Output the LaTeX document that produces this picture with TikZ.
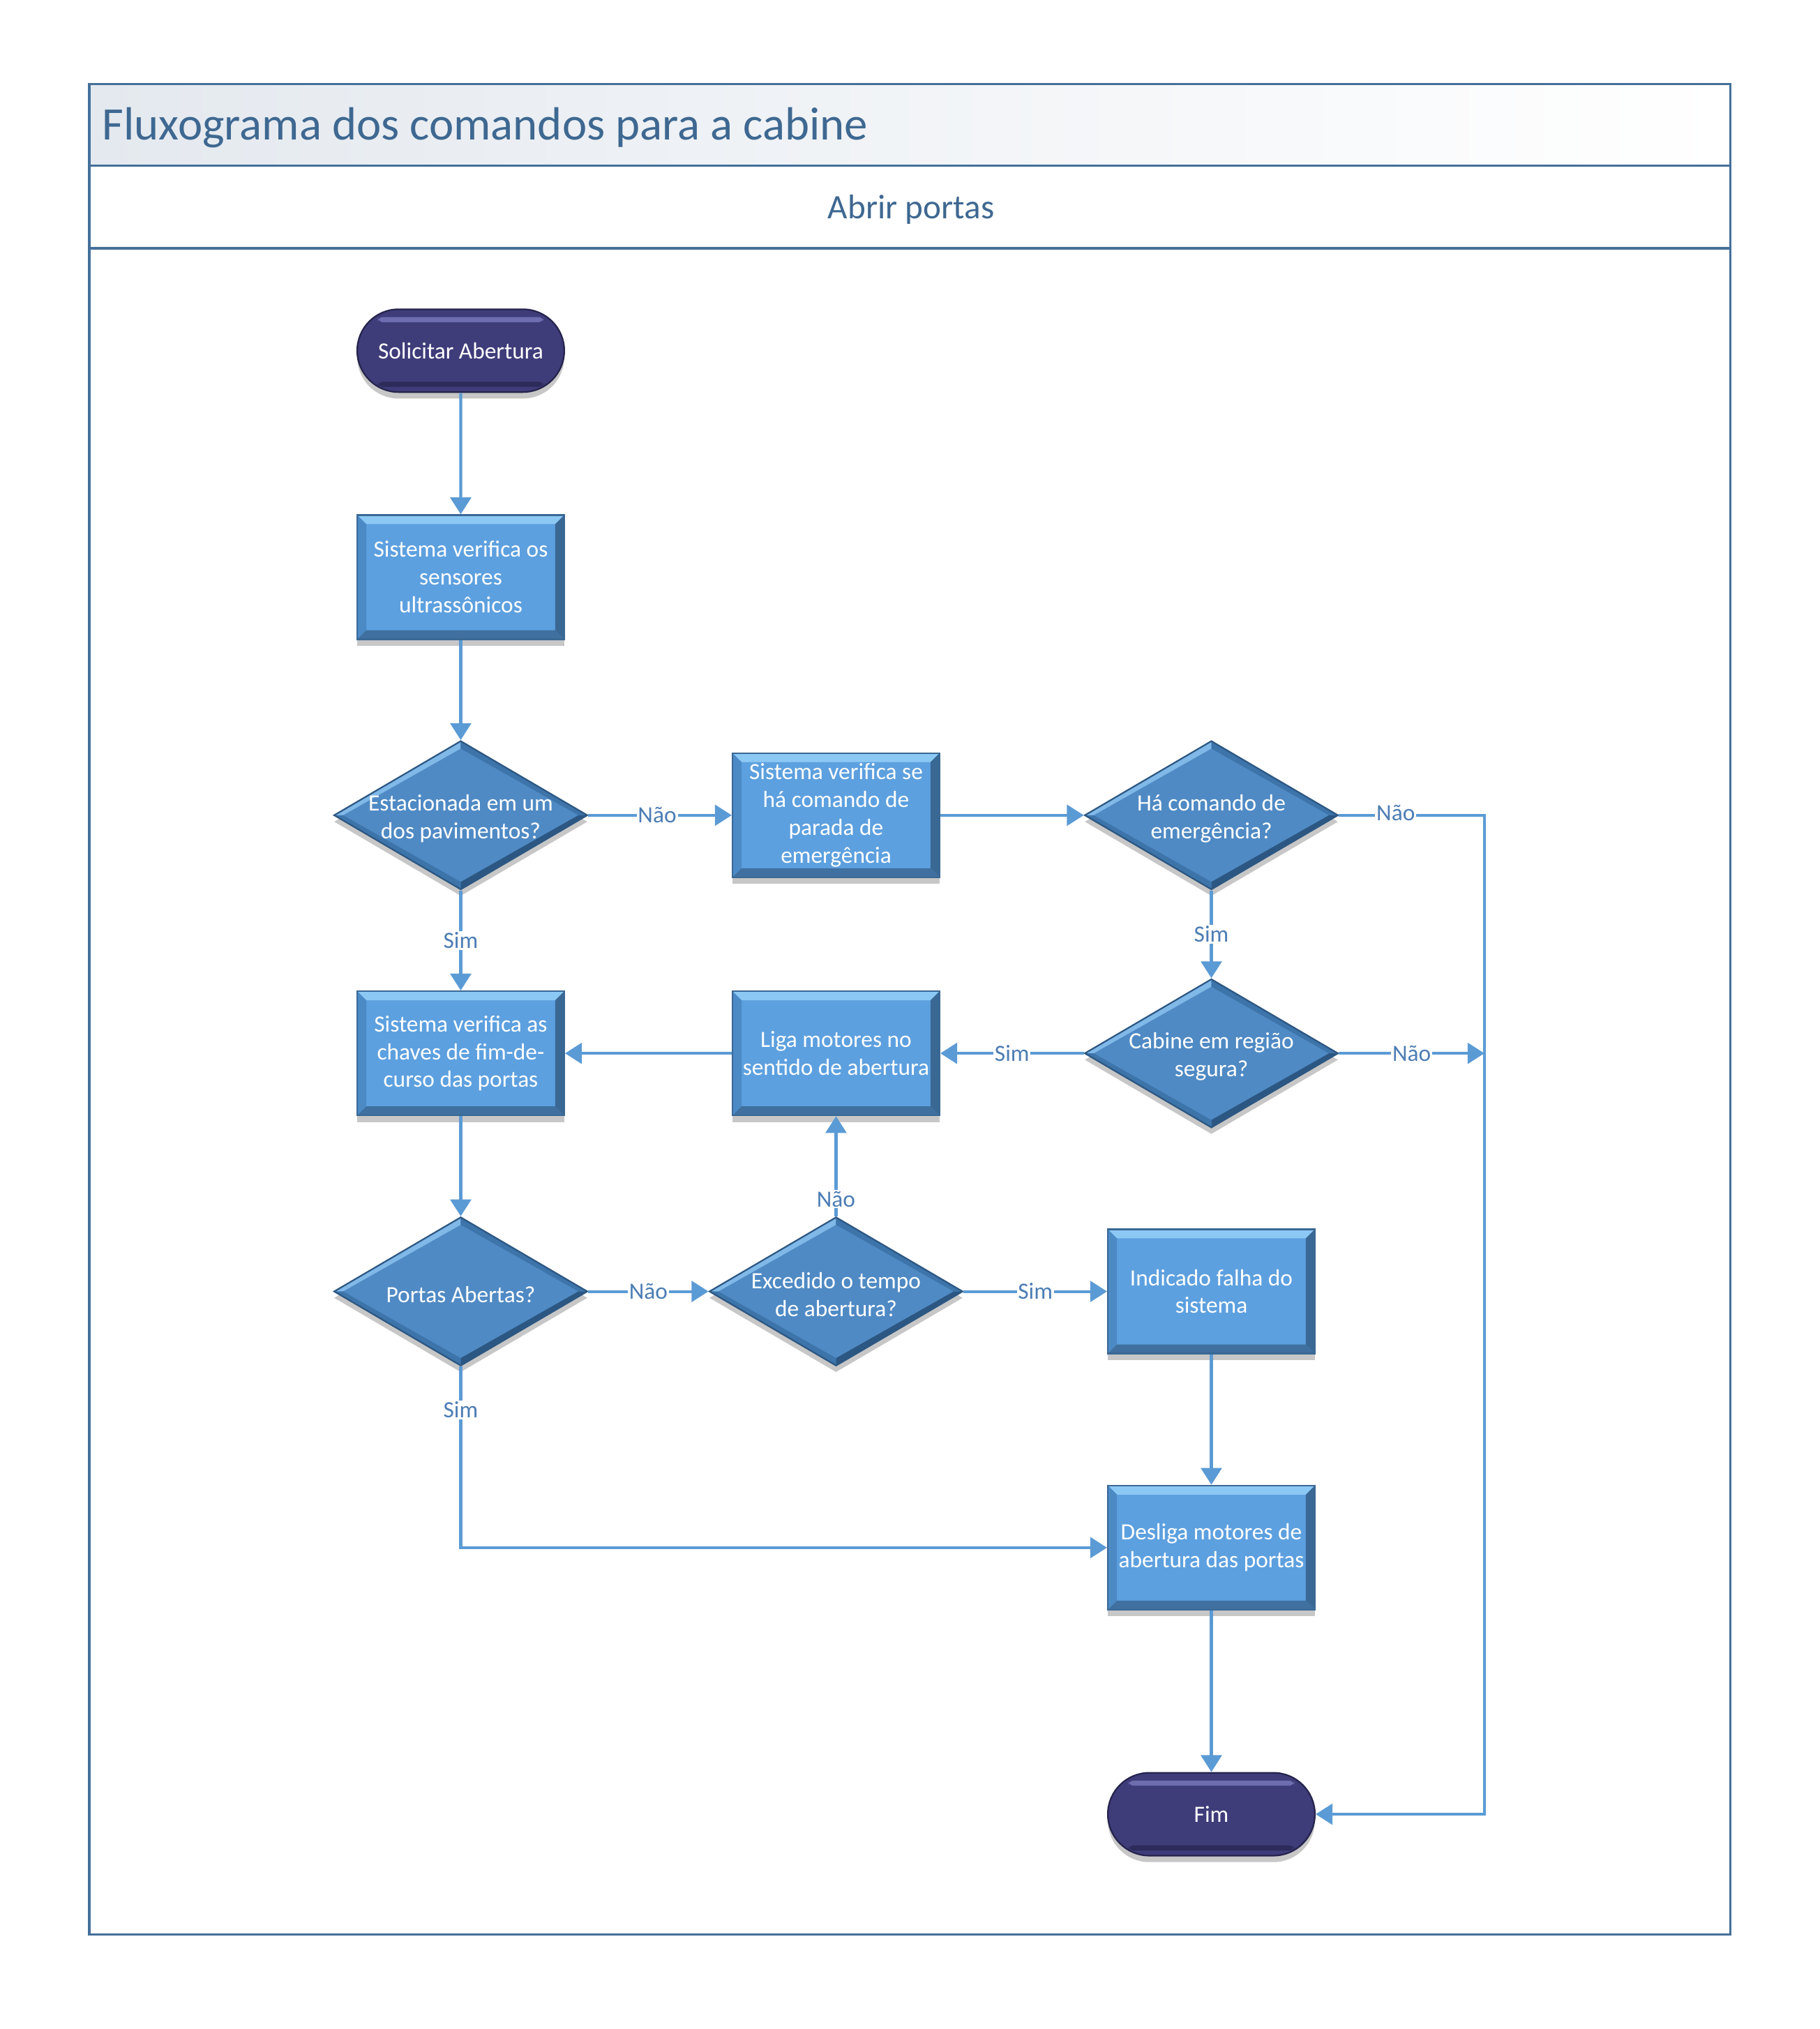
\documentclass[tikz,border=0pt]{standalone}
\usepackage{fontspec}
\setmainfont{Carlito}
\usetikzlibrary{shapes.geometric,shapes.misc,arrows.meta,shadows,calc}
\definecolor{framec}{HTML}{44709A}
\definecolor{titletxt}{HTML}{3E6891}
\definecolor{connc}{HTML}{5B9BD5}
\definecolor{lblc}{HTML}{4C7DB4}
\definecolor{boxfill}{HTML}{5DA0DF}
\definecolor{boxhi}{HTML}{8CC8F4}
\definecolor{boxdk}{HTML}{3A6894}
\definecolor{boxmid}{HTML}{4C8AC6}
\definecolor{diafill}{HTML}{4F8AC4}
\definecolor{diahi}{HTML}{80B8E8}
\definecolor{diadk}{HTML}{2C5782}
\definecolor{diamid}{HTML}{3D74AA}
\definecolor{termfill}{HTML}{3F3C7A}
\definecolor{termhi}{HTML}{6E6DB0}
\definecolor{termdk}{HTML}{25244C}
\definecolor{bandl}{HTML}{E4E9EF}
\begin{document}
\begin{tikzpicture}[x=1pt,y=-1pt,
  basetxt/.style={font=\fontsize{18}{21.5}\selectfont, text=white, align=center, inner sep=0pt},
  shadowed/.style={drop shadow={shadow xshift=0pt,shadow yshift=-5pt,opacity=.22,fill=black}},
  procbox/.style={rectangle, minimum width=160pt, minimum height=96pt, fill=boxfill, draw=boxdk,
    line width=1.2pt, basetxt, shadowed,
    path picture={
      \coordinate (pa) at (path picture bounding box.north west);
      \coordinate (pb) at (path picture bounding box.north east);
      \coordinate (pc) at (path picture bounding box.south east);
      \coordinate (pd) at (path picture bounding box.south west);
      \fill[boxhi] (pa) -- (pb) -- ($(pb)+(-7pt,-7pt)$) -- ($(pa)+(7pt,-7pt)$) -- cycle;
      \fill[boxmid] (pa) -- (pd) -- ($(pd)+(7pt,7pt)$) -- ($(pa)+(7pt,-7pt)$) -- cycle;
      \fill[boxdk] (pb) -- (pc) -- ($(pc)+(-7pt,7pt)$) -- ($(pb)+(-7pt,-7pt)$) -- cycle;
      \fill[boxdk!85!boxfill] (pd) -- (pc) -- ($(pc)+(-7pt,7pt)$) -- ($(pd)+(7pt,7pt)$) -- cycle;
    }},
  decision/.style={diamond, minimum width=196pt, minimum height=115pt, inner sep=0pt,
    fill=diafill, draw=diadk, line width=1.2pt, shadowed,
    path picture={
      \coordinate (qc) at (path picture bounding box.center);
      \coordinate (qn) at (path picture bounding box.north);
      \coordinate (qe) at (path picture bounding box.east);
      \coordinate (qs) at (path picture bounding box.south);
      \coordinate (qw) at (path picture bounding box.west);
      \fill[diahi] (qw) -- (qn) -- ($(qc)!.9!(qn)$) -- ($(qc)!.93!(qw)$) -- cycle;
      \fill[diamid] (qn) -- (qe) -- ($(qc)!.93!(qe)$) -- ($(qc)!.9!(qn)$) -- cycle;
      \fill[diadk] (qe) -- (qs) -- ($(qc)!.9!(qs)$) -- ($(qc)!.93!(qe)$) -- cycle;
      \fill[diamid] (qs) -- (qw) -- ($(qc)!.93!(qw)$) -- ($(qc)!.9!(qs)$) -- cycle;
    }},
  dtext/.style={basetxt, yshift=-2.5pt},
  term/.style={rounded rectangle, minimum width=160pt, minimum height=64pt, fill=termfill,
    draw=termdk, line width=1.2pt, basetxt, shadowed,
    path picture={
      \fill[termhi, rounded corners=4pt] ($(path picture bounding box.north west)+(16pt,-6pt)$)
        rectangle ($(path picture bounding box.north east)+(-16pt,-10pt)$);
      \fill[termdk!70!termfill, rounded corners=4pt] ($(path picture bounding box.south west)+(16pt,4pt)$)
        rectangle ($(path picture bounding box.south east)+(-16pt,8pt)$);
    }},
  arrowline/.style={draw=connc, line width=2.2pt, -{Triangle[length=13pt,width=16pt]}},
  lab/.style={fill=white, text=lblc, font=\fontsize{18}{21.5}\selectfont, inner sep=1pt},
  framel/.style={draw=framec, line width=2pt}
]
\useasboundingbox (0,0) rectangle (1406,1568);
\fill[white] (0,0) rectangle (1406,1568);

% pool frame
\shade[left color=bandl, right color=white] (69,65) rectangle (1337,128);
\draw[framel] (69,65) rectangle (1337,1495);
\draw[framel] (69,128) -- (1337,128);
\draw[framel] (69,192) -- (1337,192);
\node[anchor=base west, inner sep=0pt, text=titletxt, font=\fontsize{36}{40}\selectfont] (title) at (79,108) {Fluxograma dos comandos para a cabine};
\node[anchor=base, inner sep=0pt, text=titletxt, font=\fontsize{26.5}{30}\selectfont] (lane) at (704,169) {Abrir portas};

% nodes
\node[term] (t1) at (356,271) {Solicitar Abertura};
\node[procbox] (b1) at (356,446) {Sistema verifica os\\sensores\\ultrassônicos};
\node[decision] (d1) at (356,630) {};
\node[dtext] (d1t) at (d1) {Estacionada em um\\dos pavimentos?};
\node[procbox] (b2) at (646,630) {Sistema verifica se\\há comando de\\parada de\\emergência};
\node[decision] (d2) at (936,630) {};
\node[dtext] (d2t) at (d2) {Há comando de\\emergência?};
\node[decision] (d3) at (936,814) {};
\node[dtext] (d3t) at (d3) {Cabine em região\\segura?};
\node[procbox] (b3) at (646,814) {Liga motores no\\sentido de abertura};
\node[procbox] (b4) at (356,814) {Sistema verifica as\\chaves de fim-de-\\curso das portas};
\node[decision] (d4) at (356,998) {};
\node[dtext] (d4t) at (d4) {Portas Abertas?};
\node[decision] (d5) at (646,998) {};
\node[dtext] (d5t) at (d5) {Excedido o tempo\\de abertura?};
\node[procbox] (b5) at (936,998) {Indicado falha do\\sistema};
\node[procbox] (b6) at (936,1196) {Desliga motores de\\abertura das portas};
\node[term] (t2) at (936,1402) {Fim};

\coordinate (r1) at (1147,630);
\coordinate (r2) at (1147,1402);
\coordinate (r3) at (1147,814);
\coordinate (r4) at (356,1196);

% connectors
\draw[arrowline] (t1) -- (b1);
\draw[arrowline] (b1) -- (d1);
\draw[arrowline] (d1) -- node[lab, pos=.48]{Não} (b2);
\draw[arrowline] (b2) -- (d2);
\draw[arrowline] (d2.east) -- node[lab, pos=.39, yshift=2pt]{Não} (r1) -- (r2) -- (t2.east);
\draw[arrowline] (d2) -- node[lab]{Sim} (d3);
\draw[arrowline] (d3.east) -- node[lab, pos=.5]{Não} (r3);
\draw[arrowline] (d3) -- node[lab]{Sim} (b3);
\draw[arrowline] (b3) -- (b4);
\draw[arrowline] (d1) -- node[lab]{Sim} (b4);
\draw[arrowline] (b4) -- (d4);
\draw[arrowline] (d4) -- node[lab]{Não} (d5);
\draw[arrowline] (d5) -- node[lab, pos=.17]{Não} (b3);
\draw[arrowline] (d5) -- node[lab]{Sim} (b5);
\draw[arrowline] (b5) -- (b6);
\draw[arrowline] (d4.south) -- node[lab, pos=.24]{Sim} (r4) -- (b6.west);
\draw[arrowline] (b6) -- (t2);
\end{tikzpicture}
\end{document}
